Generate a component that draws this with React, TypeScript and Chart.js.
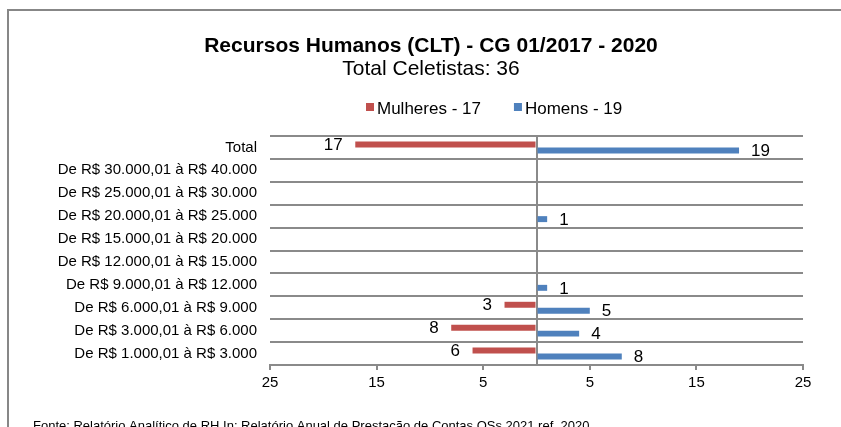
import React, { useEffect, useRef } from 'react';
import { Chart, registerables } from 'chart.js';

Chart.register(...registerables);

const categories = [
  'Total',
  'De R$ 30.000,01 à R$ 40.000',
  'De R$ 25.000,01 à R$ 30.000',
  'De R$ 20.000,01 à R$ 25.000',
  'De R$ 15.000,01 à R$ 20.000',
  'De R$ 12.000,01 à R$ 15.000',
  'De R$ 9.000,01 à R$ 12.000',
  'De R$ 6.000,01 à R$ 9.000',
  'De R$ 3.000,01 à R$ 6.000',
  'De R$ 1.000,01 à R$ 3.000',
];
const mulheres: (number | null)[] = [17, null, null, null, null, null, null, 3, 8, 6];
const homens: (number | null)[] = [19, null, null, 1, null, null, 1, 5, 4, 8];
const xTickValues = [-25, -15, -5, 0, 5, 15, 25];
const seriesLabels = ['Mulheres - 17', 'Homens - 19'];
const titleText = 'Recursos Humanos (CLT) - CG 01/2017 - 2020';
const subtitleText = 'Total Celetistas: 36';
const footerText =
  'Fonte: Relatório Analítico de RH In: Relatório Anual de Prestação de Contas OSs 2021 ref. 2020';

const FONT = "'Liberation Sans', Arial, Helvetica, sans-serif";
const GRAY = '#8a8a8a';
const FRAME = '#878787';
const RED = '#C0504D';
const BLUE = '#4F81BD';
const W = 825;
const H = 419;
const O = 8; // page offset of the canvas

const decorPlugin = {
  id: 'decor',
  beforeDraw(chart: any) {
    const ctx = chart.ctx;
    ctx.save();
    ctx.fillStyle = '#ffffff';
    ctx.fillRect(0, 0, chart.width, chart.height);
    ctx.restore();
  },
  afterDatasetsDraw(chart: any) {
    const ctx = chart.ctx;
    ctx.save();
    ctx.font = `17px ${FONT}`;
    ctx.fillStyle = '#000';
    ctx.textBaseline = 'middle';
    chart.data.datasets.forEach((ds: any, di: number) => {
      const meta = chart.getDatasetMeta(di);
      meta.data.forEach((el: any, i: number) => {
        const v = ds.data[i];
        if (v == null) return;
        if (v < 0) {
          ctx.textAlign = 'right';
          ctx.fillText(String(-v), el.x - 12.5, el.y + 0.5);
        } else {
          ctx.textAlign = 'left';
          ctx.fillText(String(v), el.x + 12, el.y + 1);
        }
      });
    });
    ctx.restore();
  },
  afterDraw(chart: any) {
    const ctx = chart.ctx;
    ctx.save();
    ctx.fillStyle = '#000';
    ctx.textBaseline = 'alphabetic';
    ctx.textAlign = 'center';
    ctx.font = `bold 21px ${FONT}`;
    ctx.fillText(titleText, 431 - O, 52 - O);
    ctx.font = `21px ${FONT}`;
    ctx.fillText(subtitleText, 431 - O, 75 - O);

    // legend
    ctx.font = `17px ${FONT}`;
    ctx.textAlign = 'left';
    let x = 366 - O;
    chart.data.datasets.forEach((ds: any) => {
      ctx.fillStyle = ds.backgroundColor;
      ctx.fillRect(x, 103 - O, 8, 8);
      ctx.fillStyle = '#000';
      ctx.fillText(ds.label, x + 11, 113.5 - O);
      x += 11 + ctx.measureText(ds.label).width + 33;
    });

    // footer
    ctx.font = `13px ${FONT}`;
    ctx.fillText(footerText, 33 - O, 429.5 - O);
    ctx.restore();
  },
};

export default function App() {
  const ref = useRef<HTMLCanvasElement | null>(null);
  useEffect(() => {
    if (!ref.current) return;
    const chart = new Chart(ref.current, {
      type: 'bar',
      data: {
        labels: categories,
        datasets: [
          {
            label: seriesLabels[0],
            data: mulheres.map((v) => (v == null ? null : -v)),
            backgroundColor: RED,
            borderWidth: 0,
            categoryPercentage: 0.52,
            barPercentage: 1,
          },
          {
            label: seriesLabels[1],
            data: homens,
            backgroundColor: BLUE,
            borderWidth: 0,
            categoryPercentage: 0.52,
            barPercentage: 1,
          },
        ],
      },
      options: {
        indexAxis: 'y',
        responsive: false,
        maintainAspectRatio: false,
        animation: false,
        events: [],
        devicePixelRatio: 1,
        layout: { padding: { left: 0, top: 136 - O, right: W + O - 803, bottom: 0 } },
        plugins: {
          legend: { display: false },
          title: { display: false },
          tooltip: { enabled: false },
        },
        scales: {
          x: {
            type: 'linear',
            min: -25,
            max: 25,
            afterBuildTicks: (scale: any) => {
              scale.ticks = xTickValues.map((v) => ({ value: v }));
            },
            afterFit: (scale: any) => {
              scale.height = 62;
            },
            ticks: {
              autoSkip: false,
              maxRotation: 0,
              padding: 4,
              color: '#000',
              font: { size: 15, family: FONT },
              callback: (v: any) => (Number(v) === 0 ? '' : String(Math.abs(Number(v)))),
            },
            grid: {
              lineWidth: 2,
              tickLength: 5,
              color: (c: any) => (c.tick && c.tick.value === 0 ? GRAY : 'rgba(0,0,0,0)'),
              tickColor: (c: any) => (c.tick && c.tick.value === 0 ? 'rgba(0,0,0,0)' : GRAY),
            },
            border: { display: true, color: GRAY, width: 2 },
          },
          y: {
            type: 'category',
            afterFit: (scale: any) => {
              scale.width = 270 - O;
            },
            ticks: {
              autoSkip: false,
              padding: 13,
              color: '#000',
              font: { size: 15, family: FONT },
            },
            grid: { color: GRAY, lineWidth: 2, drawTicks: false, offset: true },
            border: { display: false },
          },
        },
      },
      plugins: [decorPlugin],
    } as any);
    return () => chart.destroy();
  }, []);

  return (
    <div style={{ width: W, height: H, overflow: 'hidden' }}>
      <canvas ref={ref} width={W} height={H} style={{ display: 'block', width: W, height: H }} />
      <div style={{ position: 'fixed', left: 7, top: 9, width: 2, bottom: 0, background: FRAME }} />
      <div style={{ position: 'fixed', left: 7, top: 9, right: 0, height: 2, background: FRAME }} />
    </div>
  );
}
